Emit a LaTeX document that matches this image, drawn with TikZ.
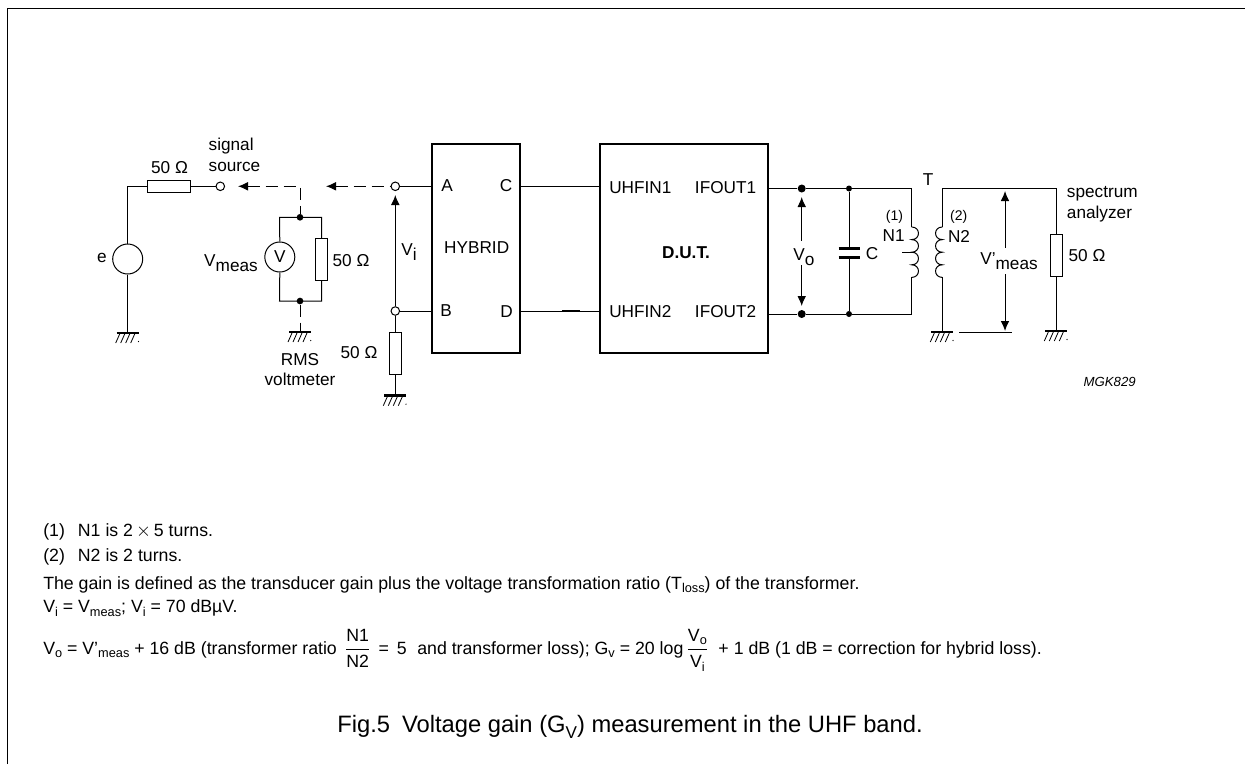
\documentclass[tikz,border=0pt]{standalone}
\usepackage{fontspec}
\setmainfont{Liberation Sans}
\usetikzlibrary{arrows.meta}
\tikzset{>={Latex[length=7.5pt,width=6.5pt]}}
\tikzset{
  wire/.style={line width=0.75pt},
  boxline/.style={line width=1.6pt},
  dashwire/.style={line width=0.75pt,dash pattern=on 9pt off 4.5pt},
  block/.style={draw,boxline,rectangle,inner sep=0,minimum width=#1,minimum height=156.8pt},
  resh/.style={draw,wire,rectangle,inner sep=0,minimum width=31.9pt,minimum height=9.4pt},
  resv/.style={draw,wire,rectangle,inner sep=0,minimum width=9.4pt,minimum height=31.5pt},
  term/.style={draw,wire,circle,fill=white,inner sep=0,minimum size=6.4pt},
  meter/.style={draw,wire,circle,inner sep=0,minimum size=22.5pt,font=\fontsize{12.9pt}{15.4pt}\selectfont},
  dot/.style={circle,fill=black,inner sep=0,minimum size=#1},
  lbl/.style={inner sep=0,font=\fontsize{12.9pt}{15.6pt}\selectfont,align=center},
  note/.style={inner sep=0,anchor=base west,font=\fontsize{13.3pt}{15pt}\selectfont},
  gnd/.pic={
    \draw[line width=2.2pt] (-11,0) -- (11,0);
    \foreach \t in {-8,-3,2,7}
      \draw[line width=0.6pt] (\t,1) -- ++(-4,9);
    \draw[line width=0.6pt] (11,8) -- (10.5,9);
  },
}
\newcommand{\dn}[1]{\raisebox{-.3em}{#1}}
\newcommand{\subtxt}[1]{\raisebox{-.22em}{\scalebox{.72}{#1}}}

\begin{document}
\begin{tikzpicture}[x=0.75pt,y=-0.75pt]
  \useasboundingbox (0,0) rectangle (1245,764);
  % open frame
  \coordinate (fa) at (7.5,764);
  \coordinate (fb) at (7.5,8.5);
  \coordinate (fc) at (1245,8.5);
  \draw[line width=1.4pt] (fa) -- (fb) -- (fc);

  % source side
  \node[meter] (e) at (127.7,259) {};
  \node[resh] (rs) at (169,186.3) {};
  \node[term] (ss) at (220.3,186.3) {};
  \coordinate (ge) at (127.7,333);
  \pic at (ge) {gnd};
  \draw[wire] (e.north) |- (rs.west);
  \draw[wire] (rs.east) -- (ss.west);
  \draw[wire] (e.south) -- (ge);
  \node[lbl] (le) at (102,258) {e};
  \node[lbl] (lrs) at (169.5,168) {50 Ω};
  \node[lbl,align=left] (lss) at (234.5,155) {signal\\source};

  % voltmeter
  \coordinate (m1) at (300,217.3);
  \coordinate (m2) at (300,301);
  \coordinate (ml) at (279.5,217.3);
  \coordinate (mr) at (321.7,217.3);
  \coordinate (nl) at (279.5,301);
  \coordinate (nr) at (321.7,301);
  \node[meter] (vm) at (279.8,257) {V};
  \node[resv] (rm) at (321.7,259.3) {};
  \draw[wire] (vm.north) -- (ml) -- (mr) -- (rm.north);
  \draw[wire] (vm.south) -- (nl) -- (nr) -- (rm.south);
  \node[dot=5pt] (dm1) at (m1) {};
  \node[dot=5pt] (dm2) at (m2) {};
  \coordinate (sw) at (300,186.3);
  \coordinate (tip1) at (238,186.3);
  \draw[dashwire,<-] (tip1) -- (sw) -- (dm1);
  \coordinate (gm) at (300,332);
  \pic at (gm) {gnd};
  \draw[dashwire] (dm2) -- (gm);
  \node[lbl] (lvm) at (231,263) {V\dn{meas}};
  \node[lbl] (lrm) at (351,261) {50 Ω};
  \node[lbl] (lrms) at (300,369.5) {RMS\\voltmeter};

  % hybrid
  \node[block=66pt] (hy) at (476,248.5) {};
  \node[term] (ta) at (395.3,186.3) {};
  \node[term] (tb) at (395.3,311) {};
  \node[resv] (rb) at (395.3,353) {};
  \coordinate (gb) at (395.3,395.7);
  \pic at (gb) {gnd};
  \coordinate (tip2) at (326,186.3);
  \coordinate (tip3) at (395.3,195);
  \draw[dashwire,<-] (tip2) -- (ta.west);
  \draw[wire] (ta.east) -- (ta -| hy.west);
  \draw[wire] (tb.east) -- (tb -| hy.west);
  \draw[wire,->] (tb.north) -- (tip3);
  \draw[wire] (tb.south) -- (rb.north);
  \draw[wire] (rb.south) -- (gb);
  \node[lbl] (lvi) at (409,252) {V\dn{i}};
  \node[lbl] (lrb) at (359,353) {50 Ω};
  \node[lbl] (pa) at (447,186) {A};
  \node[lbl] (pb) at (446,310.5) {B};
  \node[lbl] (pc) at (506,186) {C};
  \node[lbl] (pd) at (506.7,312) {D};
  \node[lbl] (lhy) at (476.7,248) {HYBRID};

  % device
  \node[block=126pt] (dut) at (684.2,248.5) {};
  \draw[wire] (ta -| hy.east) -- (ta -| dut.west);
  \draw[wire] (tb -| hy.east) -- (tb -| dut.west);
  \coordinate (da) at (562,311);
  \coordinate (db) at (580,311);
  \draw[line width=1.3pt] (da) -- (db);
  \node[lbl,anchor=west] (p1) at (609,187.5) {UHFIN1};
  \node[lbl,anchor=west] (p2) at (609,312) {UHFIN2};
  \node[lbl,anchor=west] (p3) at (694.7,187.5) {IFOUT1};
  \node[lbl,anchor=west] (p4) at (694.7,312) {IFOUT2};
  \node[lbl,font=\fontsize{12.9pt}{15.4pt}\selectfont\bfseries] (ldut) at (686,252.7) {D.U.T.};

  % output with C and N1
  \node[dot=6pt] (o1) at (801.7,188.5) {};
  \node[dot=6pt] (o2) at (801.7,314) {};
  \node[dot=4.5pt] (c1) at (849,188.5) {};
  \node[dot=4.5pt] (c2) at (849,314) {};
  \coordinate (ca) at (911.7,188.5);
  \coordinate (cb) at (911.7,314);
  \coordinate (k1) at (911.7,227);
  \coordinate (k2) at (911.7,277.4);
  \coordinate (kt) at (902,252.7);
  \coordinate (km) at (912,252.7);
  \draw[wire] (o1 -| dut.east) -- (o1) -- (c1) -- (ca) -- (k1);
  \draw[wire] (o2 -| dut.east) -- (o2) -- (c2) -- (cb) -- (k2);
  \draw[wire] (k1) \foreach \k in {1,...,4} { .. controls +(9,0) and +(9,0) .. ++(0,12.6) };
  \draw[wire] (kt) -- (km);
  \coordinate (cp1) at (849,248.7);
  \coordinate (cp2) at (849,257.3);
  \draw[wire] (c1) -- (cp1);
  \draw[wire] (c2) -- (cp2);
  \draw[line width=2pt] (cp1) ++(-10.5,0) -- ++(21,0);
  \draw[line width=2pt] (cp2) ++(-10.5,0) -- ++(21,0);
  \coordinate (v1) at (801.7,197);
  \coordinate (v2) at (801.7,241);
  \coordinate (v3) at (801.7,265);
  \coordinate (v4) at (801.7,306);
  \draw[wire,<-] (v1) -- (v2);
  \draw[wire,->] (v3) -- (v4);
  \node[lbl] (lvo) at (804,257) {V\dn{o}};
  \node[lbl] (lc) at (872,254) {C};
  \node[lbl,font=\fontsize{10.5pt}{12pt}\selectfont] (n1a) at (894.5,217) {(1)};
  \node[lbl] (n1b) at (893.7,236) {N1};
  \node[lbl] (lt) at (928,179.5) {T};

  % secondary with analyzer
  \coordinate (s1) at (942.3,188.5);
  \coordinate (s2) at (1056.3,188.5);
  \coordinate (k3) at (942.3,227);
  \coordinate (k4) at (942.3,277.4);
  \coordinate (gs) at (942.3,332);
  \coordinate (ga) at (1056.3,331);
  \node[resv] (ra) at (1056.3,255.3) {};
  \pic at (gs) {gnd};
  \pic at (ga) {gnd};
  \draw[wire] (k3) -- (s1) -- (s2) -- (ra.north);
  \draw[wire] (ra.south) -- (ga);
  \draw[wire] (k4) -- (gs);
  \draw[wire] (k3) \foreach \k in {1,...,4} { .. controls +(-9,0) and +(-9,0) .. ++(0,12.6) };
  \coordinate (w1) at (959,332);
  \coordinate (w2) at (1011.7,332);
  \draw[wire] (w1) -- (w2);
  \coordinate (a1) at (1005,191);
  \coordinate (a2) at (1005,248);
  \coordinate (a3) at (1005,274);
  \coordinate (a4) at (1005,331);
  \draw[wire,<-] (a1) -- (a2);
  \draw[wire,->] (a3) -- (a4);
  \node[lbl,font=\fontsize{10.5pt}{12pt}\selectfont] (n2a) at (958.7,217) {(2)};
  \node[lbl] (n2b) at (959,236) {N2};
  \node[lbl] (lvm2) at (1009,261) {V'\dn{meas}};
  \node[lbl] (lra) at (1087,256) {50 Ω};
  \node[lbl,align=left,anchor=west] (lsa) at (1066.7,204) {spectrum\\analyzer};
  \node[lbl,font=\fontsize{9.9pt}{12pt}\itshape\selectfont,anchor=east] (lmgk) at (1136,382) {MGK829};

  % notes
  \node[note] (t1) at (43,536) {\makebox[26pt][l]{(1)}N1 is 2\,$\times$\,5 turns.};
  \node[note] (t2) at (43,561.7) {\makebox[26pt][l]{(2)}N2 is 2 turns.};
  \node[note] (t3) at (43,589) {The gain is defined as the transducer gain plus the voltage transformation ratio (T\subtxt{loss}) of the transformer.};
  \node[note] (t4) at (43,612.7) {V\subtxt{i} = V\subtxt{meas}; V\subtxt{i} = 70 dBµV.};
  \node[note] (t5) at (43,654) {V\subtxt{o} = V'\subtxt{meas} + 16 dB (transformer ratio\hspace{2.25pt} $\displaystyle\frac{\hbox{N1}}{\hbox{N2}}$ \,= \,5\hspace{8pt}and transformer loss); G\subtxt{v} = 20 log\,$\displaystyle\frac{\hbox{V\subtxt{o}}}{\hbox{V\subtxt{i}}}$\hspace{7.5pt}+ 1 dB (1 dB = correction for hybrid loss).};
  \node[inner sep=0,font=\fontsize{17.8pt}{20pt}\selectfont] (cap) at (630,727) {Fig.5\hspace{9pt}Voltage gain (G\subtxt{V}) measurement in the UHF band.};
\end{tikzpicture}
\end{document}
